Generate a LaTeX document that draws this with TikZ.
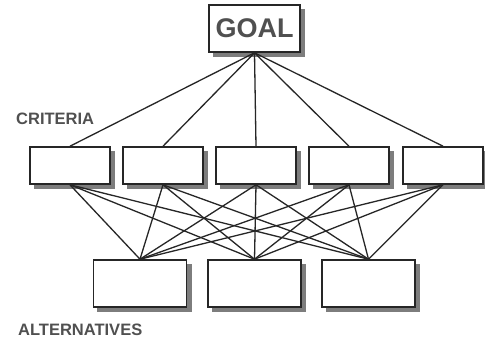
\documentclass[tikz,border=0pt]{standalone}
\usepackage{fontspec}
\setmainfont{Liberation Sans}

\definecolor{labelgray}{RGB}{80,80,80}
\definecolor{shadegray}{RGB}{125,125,125}

\tikzset{
  critbox/.style={draw=black!85, line width=1.6pt, fill=white, inner sep=0pt,
    minimum width=80pt, minimum height=37pt},
  altbox/.style={critbox, minimum width=93pt, minimum height=47pt},
  goalbox/.style={critbox, minimum width=91pt, minimum height=47pt},
  boxshade/.style={draw=shadegray, fill=shadegray, line width=1.6pt},
  level/.style={font=\bfseries\fontsize{16.5}{18}\selectfont, text=labelgray, anchor=west, inner sep=0pt},
  link/.style={draw=black!85, line width=1.3pt}
}

\begin{document}
\begin{tikzpicture}[x=1pt,y=1pt,yscale=-1,xscale=1]
\fill [white] (0,0) rectangle (485,342);
\useasboundingbox (0,0) rectangle (485,342);

% shadows
\node [goalbox, boxshade] (goalsh) at (259,33) {};
\foreach \x [count=\i] in {70,163,256,349,443}
  \node [critbox, boxshade] (csh\i) at (\x+4.5,170) {};
\foreach \x [count=\i] in {140,254.5,368.5}
  \node [altbox, boxshade] (ash\i) at (\x+4.5,288) {};

% Goal
\node [goalbox, font=\bfseries\fontsize{27}{29}\selectfont, text=labelgray] (goal) at (254.5,28.5) {GOAL};

% Criteria
\node [critbox] (c1) at (70,165.5) {};
\node [critbox] (c2) at (163,165.5) {};
\node [critbox] (c3) at (256,165.5) {};
\node [critbox] (c4) at (349,165.5) {};
\node [critbox] (c5) at (443,165.5) {};

% Alternatives
\node [altbox] (a1) at (140,283.5) {};
\node [altbox] (a2) at (254.5,283.5) {};
\node [altbox] (a3) at (368.5,283.5) {};

% Text Node
\node [level] (crit) at (16,119) {CRITERIA};
% Text Node
\node [level] (alts) at (18,330) {ALTERNATIVES};

% links goal - criteria
\foreach \c in {c1,c2,c3,c4,c5}
  \draw [link] (goal.south) -- (\c.north);

% links criteria - alternatives
\foreach \c in {c1,c2,c3,c4,c5}
  \foreach \a in {a1,a2,a3}
    \draw [link] (\c.south) -- (\a.north);

\end{tikzpicture}
\end{document}
